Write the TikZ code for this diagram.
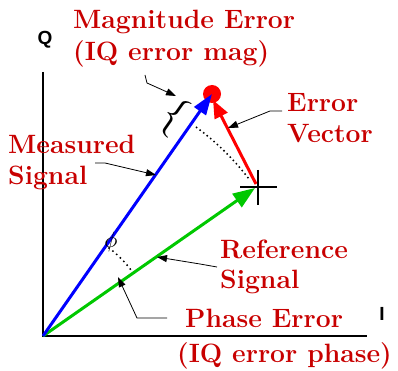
\documentclass[tikz,border=0pt]{standalone}
\usepackage{fontspec}
\newfontfamily\axfont{Liberation Sans}
\usetikzlibrary{arrows.meta,calc}
\definecolor{lblred}{RGB}{200,0,0}
\definecolor{refgreen}{RGB}{0,200,0}
\tikzset{
  lbl/.style={anchor=base west, inner sep=0pt, text=lblred, font=\fontsize{26.5}{32}\selectfont\bfseries},
  axlbl/.style={inner sep=0pt, font=\axfont\bfseries, scale=1.9},
  leader/.style={draw=black, line width=0.8pt, -{Triangle[length=10pt,width=7pt]}},
  vec/.style={line width=3pt},
  axisline/.style={line width=1.8pt, black},
}
\begin{document}
\begin{tikzpicture}[x=1pt,y=-1pt]
\useasboundingbox (0,0) rectangle (398,371);
% key points
\coordinate (O) at (43,336);
\coordinate (QT) at (43,72);
\coordinate (IE) at (367,336);
\coordinate (M) at (212,94);
\coordinate (R) at (255,188);
\coordinate (X) at (258,187);
\coordinate (RS) at (256,184);
\coordinate (RT) at (213,100);
% axes
\draw[axisline] (QT) -- (O) -- (IE);
\node[axlbl] (q) at (45,40) {Q};
\node[axlbl] (i) at (382,314) {I};
% dotted arcs
\draw[line width=1.5pt, dash pattern=on 1.5pt off 3pt] ($(O)+(-53.8:259)$) arc[start angle=-53.8, end angle=-37.4, radius=259];
\draw[line width=1.5pt, dash pattern=on 1.5pt off 3.5pt] ($(O)+(-53.5:110)$) arc[start angle=-53.5, end angle=-35.7, radius=110];
% vectors
\fill[red] (M) circle[radius=9];
\draw[vec, refgreen, -{Triangle[length=22pt,width=16pt]}] (O) -- (R);
\draw[vec, red, -{Triangle[length=18pt,width=14pt]}] (RS) -- (RT);
\draw[vec, blue, -{Triangle[length=21pt,width=14pt]}] (O) -- (M);
% crosshair
\draw[line width=2pt] ($(X)+(-18,0)$) -- ($(X)+(19,0)$);
\draw[line width=2pt] ($(X)+(0,-17)$) -- ($(X)+(0,18)$);
% phi and brace
\node[inner sep=0pt, scale=2.2] (phi) at (111,242) {$\phi$};
\node[inner sep=0pt, rotate=-35, scale=4.2] (brace) at (174,117) {\{};
% labels
\node[lbl] (mag1) at (73,29) {Magnitude Error};
\node[lbl] (mag2) at (73,61) {(IQ error mag)};
\node[lbl] (ev1) at (287,112) {Error};
\node[lbl] (ev2) at (287,143) {Vector};
\node[lbl] (ms1) at (8,154) {Measured};
\node[lbl] (ms2) at (8,185) {Signal};
\node[lbl] (rs1) at (220,258) {Reference};
\node[lbl] (rs2) at (220,288) {Signal};
\node[lbl] (pe1) at (185,327) {Phase Error};
\node[lbl] (pe2) at (177,362) {(IQ error phase)};
% leaders
\coordinate (l1a) at (145,75); \coordinate (l1b) at (147,83); \coordinate (l1c) at (176,96);
\draw[leader] (l1a) -- (l1b) -- (l1c);
\coordinate (l2a) at (282,111); \coordinate (l2b) at (270,111); \coordinate (l2c) at (228,128);
\draw[leader] (l2a) -- (l2b) -- (l2c);
\coordinate (l3a) at (95,163); \coordinate (l3b) at (105,163); \coordinate (l3c) at (156,175);
\draw[leader] (l3a) -- (l3b) -- (l3c);
\coordinate (l4a) at (217,267); \coordinate (l4b) at (200,264); \coordinate (l4c) at (157,257);
\draw[leader] (l4a) -- (l4b) -- (l4c);
\coordinate (l5a) at (167,318); \coordinate (l5b) at (137,318); \coordinate (l5c) at (118,277);
\draw[leader] (l5a) -- (l5b) -- (l5c);
\end{tikzpicture}
\end{document}
